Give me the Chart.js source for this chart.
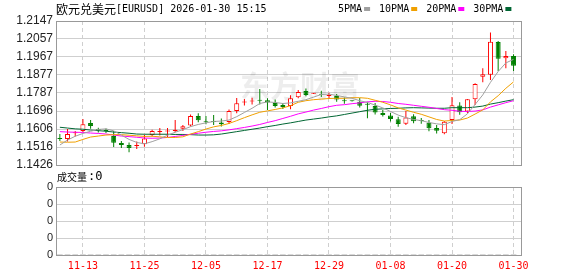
<!DOCTYPE html>
<html>
<head>
<meta charset="utf-8">
<script src="https://cdn.jsdelivr.net/npm/chart.js@4/dist/chart.umd.min.js"></script>
<style>
  body { margin: 0; background: #fff; width: 578px; height: 276px; overflow: hidden; position: relative; }
  canvas { position: absolute; left: 0; }
  #kline { top: 0; }
  #vol { top: 168px; }
</style>
</head>
<body>
<canvas id="kline" width="578" height="168"></canvas>
<canvas id="vol" width="578" height="108"></canvas>
<script>
/* EURUSD daily K-line with moving averages + empty volume panel */

const titleName = '欧元兑美元';
const titleCode = '[EURUSD] 2026-01-30 15:15';
const volTitle = '成交量';
const volValueText = ':0';
const watermark = '东方财富';

const dates = [
  '11-10','11-11','11-12','11-13','11-14','11-17','11-18','11-19','11-20','11-21',
  '11-24','11-25','11-26','11-27','11-28','12-01','12-02','12-03','12-04','12-05',
  '12-08','12-09','12-10','12-11','12-12','12-15','12-16','12-17','12-18','12-19',
  '12-22','12-23','12-24','12-25','12-26','12-29','12-30','12-31','01-01','01-02',
  '01-05','01-06','01-07','01-08','01-09','01-12','01-13','01-14','01-15','01-16',
  '01-19','01-20','01-21','01-22','01-23','01-26','01-27','01-28','01-29','01-30'
];

const opens = [
  1.1561,1.1556,1.1585,1.1596,1.1636,1.1606,1.1601,1.1571,1.1536,1.1526,
  1.1521,1.1530,1.1576,1.1591,1.1594,1.1596,1.1608,1.1624,1.1671,1.1643,
  1.1645,1.1639,1.1641,1.1696,1.1739,1.1744,1.1751,1.1750,1.1736,1.1726,
  1.1721,1.1765,1.1797,1.1783,1.1782,1.1772,1.1771,1.1748,1.1747,1.1743,
  1.1731,1.1721,1.1686,1.1674,1.1655,1.1633,1.1670,1.1649,1.1638,1.1611,
  1.1585,1.1651,1.1724,1.1694,1.1755,1.1868,1.1878,1.2042,1.1960,1.1972
];
const highs = [
  1.1581,1.1606,1.1596,1.1656,1.1651,1.1613,1.1609,1.1596,1.1546,1.1539,
  1.1544,1.1576,1.1603,1.1611,1.1611,1.1651,1.1626,1.1679,1.1685,1.1671,
  1.1676,1.1659,1.1704,1.1761,1.1756,1.1763,1.1807,1.1760,1.1754,1.1736,
  1.1775,1.1802,1.1809,1.1787,1.1798,1.1788,1.1782,1.1764,1.1749,1.1761,
  1.1743,1.1736,1.1701,1.1686,1.1668,1.1696,1.1680,1.1661,1.1651,1.1626,
  1.1646,1.1766,1.1740,1.1756,1.1835,1.1910,1.2090,1.2047,1.1997,1.1980
];
const lows = [
  1.1546,1.1544,1.1569,1.1591,1.1608,1.1589,1.1586,1.1516,1.1511,1.1490,
  1.1506,1.1518,1.1569,1.1574,1.1566,1.1590,1.1596,1.1619,1.1640,1.1630,
  1.1626,1.1619,1.1631,1.1685,1.1724,1.1729,1.1729,1.1701,1.1714,1.1706,
  1.1705,1.1760,1.1770,1.1782,1.1766,1.1756,1.1743,1.1733,1.1744,1.1714,
  1.1660,1.1679,1.1669,1.1644,1.1618,1.1626,1.1635,1.1633,1.1595,1.1584,
  1.1580,1.1631,1.1678,1.1685,1.1726,1.1840,1.1852,1.1897,1.1910,1.1897
];
const closes = [
  1.1556,1.1581,1.1588,1.1630,1.1621,1.1600,1.1596,1.1538,1.1526,1.1511,
  1.1525,1.1559,1.1596,1.1595,1.1599,1.1603,1.1620,1.1671,1.1650,1.1640,
  1.1641,1.1630,1.1696,1.1735,1.1742,1.1747,1.1748,1.1739,1.1721,1.1716,
  1.1760,1.1792,1.1776,1.1786,1.1778,1.1775,1.1754,1.1745,1.1745,1.1723,
  1.1728,1.1689,1.1676,1.1656,1.1631,1.1664,1.1645,1.1646,1.1610,1.1598,
  1.1643,1.1725,1.1690,1.1755,1.1832,1.1880,1.2043,1.1958,1.1972,1.1923
];

const ma5 = [
  1.1526,1.1551,1.1570,1.1584,1.1595,1.1604,1.1607,1.1597,1.1576,1.1554,
  1.1539,1.1532,1.1543,1.1557,1.1575,1.1590,1.1603,1.1618,1.1629,1.1637,
  1.1644,1.1646,1.1651,1.1668,1.1689,1.1710,1.1734,1.1742,1.1739,1.1734,
  1.1737,1.1745,1.1753,1.1766,1.1779,1.1781,1.1774,1.1767,1.1760,1.1748,
  1.1739,1.1726,1.1712,1.1694,1.1676,1.1663,1.1654,1.1648,1.1639,1.1632,
  1.1628,1.1644,1.1653,1.1682,1.1729,1.1777,1.1840,1.1894,1.1937,1.1955
];
const ma10 = [
  1.1541,1.1540,1.1541,1.1554,1.1566,1.1571,1.1576,1.1578,1.1578,1.1575,
  1.1572,1.1569,1.1570,1.1567,1.1564,1.1564,1.1567,1.1581,1.1593,1.1606,
  1.1617,1.1624,1.1634,1.1648,1.1663,1.1677,1.1690,1.1697,1.1704,1.1712,
  1.1723,1.1740,1.1748,1.1753,1.1756,1.1759,1.1760,1.1760,1.1763,1.1763,
  1.1760,1.1750,1.1740,1.1727,1.1712,1.1701,1.1690,1.1680,1.1667,1.1654,
  1.1646,1.1649,1.1651,1.1661,1.1681,1.1702,1.1742,1.1773,1.1810,1.1842
];
const ma20 = [
  1.1593,1.1591,1.1590,1.1589,1.1586,1.1584,1.1581,1.1576,1.1571,1.1568,
  1.1565,1.1561,1.1560,1.1561,1.1564,1.1569,1.1574,1.1580,1.1585,1.1590,
  1.1594,1.1597,1.1602,1.1608,1.1614,1.1621,1.1629,1.1639,1.1648,1.1659,
  1.1670,1.1682,1.1691,1.1701,1.1709,1.1718,1.1725,1.1728,1.1733,1.1737,
  1.1742,1.1745,1.1744,1.1740,1.1734,1.1730,1.1725,1.1720,1.1715,1.1709,
  1.1703,1.1700,1.1695,1.1694,1.1696,1.1702,1.1716,1.1727,1.1738,1.1748
];
const ma30 = [
  1.1615,1.1611,1.1607,1.1605,1.1601,1.1598,1.1595,1.1591,1.1588,1.1585,
  1.1581,1.1580,1.1580,1.1580,1.1580,1.1579,1.1579,1.1578,1.1576,1.1576,
  1.1577,1.1581,1.1587,1.1593,1.1599,1.1605,1.1611,1.1618,1.1624,1.1631,
  1.1637,1.1644,1.1651,1.1656,1.1661,1.1667,1.1672,1.1679,1.1686,1.1693,
  1.1700,1.1705,1.1707,1.1709,1.1710,1.1712,1.1713,1.1712,1.1711,1.1710,
  1.1710,1.1713,1.1713,1.1713,1.1716,1.1721,1.1731,1.1738,1.1746,1.1753
];

const volumes = [
  0,0,0,0,0,0,0,0,0,0, 0,0,0,0,0,0,0,0,0,0, 0,0,0,0,0,0,0,0,0,0,
  0,0,0,0,0,0,0,0,0,0, 0,0,0,0,0,0,0,0,0,0, 0,0,0,0,0,0,0,0,0,0
];

const priceTicks = [1.1426, 1.1516, 1.1606, 1.1696, 1.1787, 1.1877, 1.1967, 1.2057, 1.2147];
const volTicks = [0, 1, 2, 3, 4];
const volTickLabels = ['0', '0', '0', '0', '0'];
const xTickLabels = ['11-13', '11-25', '12-05', '12-17', '12-29', '01-08', '01-20', '01-30'];

const maNames = ['5PMA', '10PMA', '20PMA', '30PMA'];
const maColors = ['#a0a0a0', '#f0a000', '#ff00ff', '#006633'];

const UP = '#ff0000';
const DOWN = '#008000';
const GRID = '#cfcfcf';
const MONO = '"DejaVu Sans Mono", monospace';
const CJK = '"Noto Sans CJK SC", sans-serif';

const isUp = i => closes[i] >= opens[i];
const xTickValues = xTickLabels.map(l => dates.indexOf(l));

const fitY = s => { s.width = 56; s.paddingTop = 0; s.paddingBottom = 0; };
const fitX = h => s => { s.height = h; s.paddingLeft = 0; s.paddingRight = 0; };

const xAxis = (showLabels) => ({
    type: 'linear',
    min: -0.5,
    max: 60.1,
    offset: false,
    afterBuildTicks: s => { s.ticks = xTickValues.map(v => ({ value: v })); },
    afterFit: fitX(showLabels ? 21 : 0),
    grid: { color: GRID, drawTicks: false, offset: false },
    border: { display: false, dash: [4, 3] },
    ticks: {
        display: showLabels,
        padding: 5,
        maxRotation: 0,
        autoSkip: false,
        color: UP,
        font: { family: MONO, size: 10 },
        callback: v => dates[v]
    }
});

// frame, texts and watermark
const frame = {
    id: 'frame',
    beforeDatasetsDraw(chart, args, opts) {
        if (!opts.watermark) return;
        const ctx = chart.ctx;
        ctx.save();
        ctx.font = 'bold 30px ' + CJK;
        ctx.fillStyle = 'rgba(0,0,0,0.07)';
        ctx.textBaseline = 'middle';
        ctx.fillText(watermark, 240, 86);
        ctx.restore();
    },
    afterDraw(chart, args, opts) {
        const {ctx, chartArea: a} = chart;
        ctx.save();
        ctx.strokeStyle = '#999';
        ctx.lineWidth = 1;
        ctx.strokeRect(Math.round(a.left) + 0.5, Math.round(a.top) + 0.5,
            Math.round(a.right - a.left) - 1, Math.round(a.bottom - a.top));
        ctx.fillStyle = '#000';
        ctx.textBaseline = 'middle';
        if (opts.main) {
            ctx.font = '12px ' + CJK;
            ctx.fillText(titleName, 56, 9);
            const w = ctx.measureText(titleName).width;
            ctx.font = '10px ' + MONO;
            ctx.fillText(titleCode, 56 + w, 9);
            let x = 338;
            maNames.forEach((n, i) => {
                ctx.fillStyle = '#000';
                ctx.fillText(n, x, 9);
                x += ctx.measureText(n).width + 2;
                ctx.fillStyle = maColors[i];
                ctx.fillRect(x, 7, 6, 4);
                x += 15;
            });
        } else {
            ctx.font = '10px ' + CJK;
            ctx.fillText(volTitle, 57, 9);
            const w = ctx.measureText(volTitle).width;
            ctx.font = '12px ' + MONO;
            ctx.fillText(volValueText, 57 + w + 1, 9);
        }
        ctx.restore();
    }
};

const idx = dates.map((d, i) => i);

new Chart(document.getElementById('kline'), {
    type: 'bar',
    data: {
        datasets: [
            ...[ma5, ma10, ma20, ma30].map((m, k) => ({
                type: 'line',
                label: maNames[k],
                data: idx.map(i => ({ x: i, y: m[i] })),
                borderColor: maColors[k],
                borderWidth: 1,
                pointRadius: 0,
                tension: 0,
                order: 1
            })),
            {
                label: 'body',
                data: idx.map(i => ({ x: i, y: [opens[i], closes[i]] })),
                backgroundColor: idx.map(i => isUp(i) ? '#ffffff' : DOWN),
                borderColor: idx.map(i => isUp(i) ? UP : DOWN),
                borderWidth: 1,
                borderSkipped: false,
                barThickness: 5,
                minBarLength: 1,
                inflateAmount: 0,
                grouped: false,
                order: 2
            },
            {
                label: 'wick',
                data: idx.map(i => ({ x: i, y: [lows[i], highs[i]] })),
                backgroundColor: idx.map(i => isUp(i) ? UP : DOWN),
                barThickness: 1,
                inflateAmount: 0,
                grouped: false,
                order: 3
            }
        ]
    },
    options: {
        responsive: false,
        animation: false,
        devicePixelRatio: 1,
        layout: { padding: { left: 0, right: 56, top: 21, bottom: 3 } },
        plugins: {
            legend: { display: false },
            tooltip: { enabled: false },
            frame: { main: true, watermark: true }
        },
        scales: {
            x: xAxis(false),
            y: {
                min: priceTicks[0],
                max: priceTicks[priceTicks.length - 1],
                afterBuildTicks: s => { s.ticks = priceTicks.map(v => ({ value: v })); },
                afterFit: fitY,
                grid: { color: GRID, drawTicks: false },
                border: { display: false },
                ticks: {
                    padding: 3,
                    color: '#222',
                    font: { family: '"Liberation Sans", Arial', size: 12 },
                    callback: v => v.toFixed(4)
                }
            }
        }
    },
    plugins: [frame]
});

new Chart(document.getElementById('vol'), {
    type: 'bar',
    data: {
        datasets: [{
            label: volTitle,
            data: idx.map(i => ({ x: i, y: volumes[i] })),
            backgroundColor: '#888',
            barThickness: 5,
            grouped: false
        }]
    },
    options: {
        responsive: false,
        animation: false,
        devicePixelRatio: 1,
        layout: { padding: { left: 0, right: 56, top: 19, bottom: 0 } },
        plugins: {
            legend: { display: false },
            tooltip: { enabled: false },
            frame: { main: false, watermark: false }
        },
        scales: {
            x: xAxis(true),
            y: {
                min: volTicks[0],
                max: volTicks[volTicks.length - 1],
                afterBuildTicks: s => { s.ticks = volTicks.map(v => ({ value: v })); },
                afterFit: fitY,
                grid: { color: GRID, drawTicks: false },
                border: { display: false },
                ticks: {
                    padding: 3,
                    color: '#222',
                    font: { family: '"Liberation Sans", Arial', size: 11 },
                    callback: (v, i) => volTickLabels[i]
                }
            }
        }
    },
    plugins: [frame]
});
</script>
</body>
</html>
